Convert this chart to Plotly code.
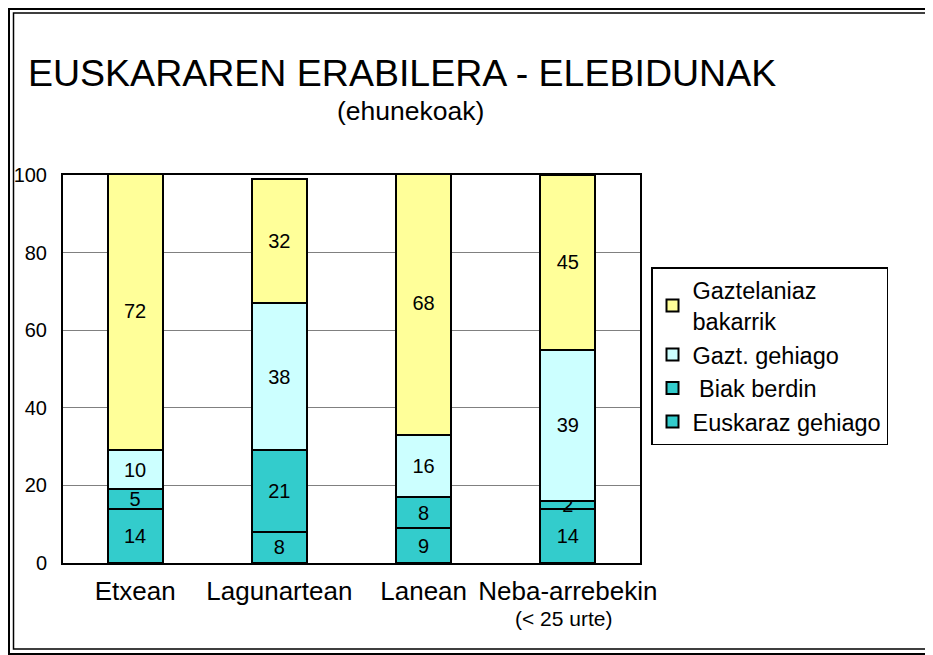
import plotly.graph_objects as go

categories = ["Etxean", "Lagunartean", "Lanean", "Neba-arrebekin"]
series_names = ["Euskaraz gehiago", "\u00a0Biak berdin", "Gazt. gehiago", "Gaztelaniaz<br>bakarrik"]
euskaraz_gehiago = [14, 8, 9, 14]
biak_berdin = [5, 21, 8, 2]
gazt_gehiago = [10, 38, 16, 39]
gaztelaniaz_bakarrik = [72, 32, 68, 45]
series_values = [euskaraz_gehiago, biak_berdin, gazt_gehiago, gaztelaniaz_bakarrik]
colors = ["#33CCCC", "#33CCCC", "#CCFFFF", "#FFFF99"]
y_ticks = [0, 20, 40, 60, 80, 100]

FONT = "Liberation Sans, Arial, sans-serif"

fig = go.Figure()
for name, vals, col in zip(series_names, series_values, colors):
    fig.add_trace(go.Bar(
        x=categories, y=vals, name=name,
        marker=dict(color=col, line=dict(color="black", width=2)),
        text=[str(v) for v in vals], textposition="inside",
        insidetextanchor="middle", textangle=0, constraintext="none",
        textfont=dict(size=20, color="black", family=FONT),
    ))

# page body has an 8px margin: figure pixel = screen pixel - 8
OFF = 8
W, H = 933, 655
L, R, T, B = 63 - OFF, 640 - OFF, 175 - OFF, 563 - OFF
pw, ph = R - L, B - T

def px(x):
    return (x - OFF - L) / pw

def py(y):
    return (B - (y - OFF)) / ph

shapes = [
    dict(type="rect", xref="paper", yref="paper", x0=px(9), x1=px(960), y0=py(654), y1=py(9),
         line=dict(color="black", width=2), fillcolor="rgba(0,0,0,0)", layer="above"),
    dict(type="rect", xref="paper", yref="paper", x0=px(13.5), x1=px(960), y0=py(649), y1=py(13),
         line=dict(color="black", width=1.5), fillcolor="rgba(0,0,0,0)", layer="above"),
]

fig.update_layout(
    width=W, height=H,
    margin=dict(l=L, r=W - R, t=T, b=H - B, pad=0, autoexpand=False),
    paper_bgcolor="white", plot_bgcolor="white",
    barmode="stack", bargap=0.62,
    font=dict(family=FONT, color="black"),
    showlegend=True,
    legend=dict(x=px(651), y=py(267), xanchor="left", yanchor="top",
                traceorder="reversed", bordercolor="black", borderwidth=1.5,
                bgcolor="white", font=dict(size=23.5, family=FONT),
                itemwidth=30),
    shapes=shapes,
    annotations=[
        dict(text="EUSKARAREN ERABILERA - ELEBIDUNAK", xref="paper", yref="paper",
             x=px(26), y=py(73), xanchor="left", yanchor="middle", showarrow=False,
             font=dict(size=37.5, family=FONT)),
        dict(text="(ehunekoak)", xref="paper", yref="paper",
             x=px(410), y=py(111), xanchor="center", yanchor="middle", showarrow=False,
             font=dict(size=26.5, family=FONT)),
        dict(text="(< 25 urte)", xref="x", yref="paper",
             x=categories[3], y=py(618), xshift=-4, xanchor="center", yanchor="middle",
             showarrow=False, font=dict(size=21, family=FONT)),
    ],
    xaxis=dict(showline=True, linecolor="black", linewidth=2, mirror=True,
               tickfont=dict(size=26, family=FONT), ticks="", ticklabelstandoff=4,
               showgrid=False, automargin=False),
    yaxis=dict(range=[0, 100], tickvals=y_ticks, showline=True, linecolor="black",
               linewidth=2, mirror=True, showgrid=True, gridcolor="#808080", gridwidth=1,
               tickfont=dict(size=20, family=FONT), ticks="", ticklabelstandoff=10,
               zeroline=False, automargin=False),
)

fig.write_html("out.html")
